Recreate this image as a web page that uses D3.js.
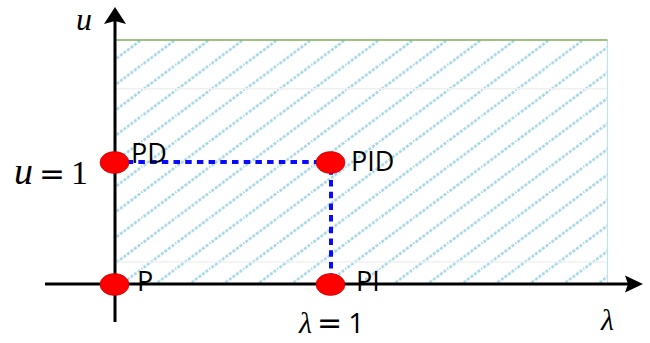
<!DOCTYPE html>
<html>
<head>
<meta charset="utf-8">
<script src="https://cdn.jsdelivr.net/npm/d3@7"></script>
<style>
html,body{margin:0;padding:0;background:#fff;}
svg{display:block;}
</style>
</head>
<body>
<script>
// ---- data ----
const pointNames = ["P", "PI", "PD", "PID"];
const lambdaValues = [0, 1, 0, 1];
const uValues = [0, 0, 1, 1];
const regionLambda = [0, 2.28];
const regionU = [0, 2];
const dashedPath = [[0, 1], [1, 1], [1, 0]]; // [lambda, u]

const W = 650, H = 343;
const svg = d3.select("body").append("svg").attr("width", W).attr("height", H);

const x = d3.scaleLinear().domain([0, 1]).range([115, 331]);
const y = d3.scaleLinear().domain([0, 1]).range([284, 162]);

const defs = svg.append("defs");
const pw = 34, ph = 25.5;
const pat = defs.append("pattern")
  .attr("id", "hatch").attr("patternUnits", "userSpaceOnUse")
  .attr("width", pw).attr("height", ph).attr("x", 5).attr("y", 40);
pat.append("line").attr("x1", -1).attr("y1", ph + 0.75).attr("x2", pw + 1).attr("y2", -0.75)
  .attr("stroke", "#a6d6e7").attr("stroke-width", 2.6)
  .attr("stroke-dasharray", "3,1.4");

// shaded region
svg.append("rect")
  .attr("x", x(regionLambda[0])).attr("y", y(regionU[1]))
  .attr("width", x(regionLambda[1]) - x(regionLambda[0]))
  .attr("height", y(regionU[0]) - y(regionU[1]))
  .attr("fill", "url(#hatch)");
// faint horizontal lines
[1.6, 0.18].forEach(v => {
  svg.append("line").attr("x1", x(0)).attr("x2", x(regionLambda[1]))
    .attr("y1", y(v)).attr("y2", y(v)).attr("stroke", "#f0f0f0").attr("stroke-width", 1.5);
});
// right border
svg.append("line").attr("x1", x(regionLambda[1])).attr("x2", x(regionLambda[1]))
  .attr("y1", y(regionU[1])).attr("y2", y(0)).attr("stroke", "#bfe1ec").attr("stroke-width", 1.2);
// top border green
svg.append("line").attr("x1", x(0)).attr("x2", x(regionLambda[1]))
  .attr("y1", y(regionU[1])).attr("y2", y(regionU[1])).attr("stroke", "#7fae50").attr("stroke-width", 1.5);

// axes
svg.append("line").attr("x1", 45).attr("x2", 628).attr("y1", y(0)).attr("y2", y(0))
  .attr("stroke", "#000").attr("stroke-width", 3);
svg.append("path").attr("d", `M643,${y(0)} L625,${y(0)-8.5} L628,${y(0)} L625,${y(0)+8.5} Z`).attr("fill", "#000");
svg.append("line").attr("x1", x(0)).attr("x2", x(0)).attr("y1", 20).attr("y2", 322)
  .attr("stroke", "#000").attr("stroke-width", 3);
svg.append("path").attr("d", `M${x(0)},7 L${x(0)-11},24 L${x(0)},21 L${x(0)+11},24 Z`).attr("fill", "#000");

// dashed path
svg.append("path")
  .attr("d", d3.line().x(d => x(d[0])).y(d => y(d[1]))(dashedPath))
  .attr("fill", "none").attr("stroke", "#0a0aff").attr("stroke-width", 4)
  .attr("stroke-dasharray", "6.5,5.2");

// points
const pts = pointNames.map((n, i) => ({n, l: lambdaValues[i], u: uValues[i]}));
svg.selectAll("ellipse.pt").data(pts).enter().append("ellipse")
  .attr("cx", d => x(d.l) - 0.5).attr("cy", d => y(d.u) + 0.5)
  .attr("rx", 14.5).attr("ry", 11)
  .attr("fill", "#ff0000").attr("stroke", "#b00000").attr("stroke-width", 0.6);

const labelDx = {P: 22, PI: 25, PD: 16, PID: 20};
const labelDy = {P: 7, PI: 7, PD: 1, PID: 9};
svg.selectAll("text.pt").data(pts).enter().append("text")
  .attr("x", d => x(d.l) + labelDx[d.n]).attr("y", d => y(d.u) + labelDy[d.n])
  .attr("font-family", "'Open Sans', sans-serif").attr("font-size", 27)
  .attr("fill", "#000").text(d => d.n);

// math labels
const serif = "'Liberation Serif', 'DejaVu Serif', serif";
const t1 = svg.append("text").attr("x", 14).attr("y", 184).attr("font-family", serif).attr("font-size", 34);
t1.append("tspan").attr("font-style", "italic").attr("font-size", 38).text("u");
t1.append("tspan").attr("dx", 6).attr("font-family", "'DejaVu Sans', sans-serif").attr("font-size", 31).text("=");
t1.append("tspan").attr("dx", 6).text("1");

const t2 = svg.append("text").attr("x", 299).attr("y", 333).attr("font-family", serif).attr("font-size", 31);
t2.append("tspan").attr("font-style", "italic").attr("font-size", 30).text("λ");
t2.append("tspan").attr("dx", 5).attr("font-family", "'DejaVu Sans', sans-serif").attr("font-size", 30).text("=");
t2.append("tspan").attr("dx", 6).attr("font-family", "'Open Sans', sans-serif").attr("font-size", 28).text("1");

svg.append("text").attr("x", 76).attr("y", 30).attr("font-family", serif)
  .attr("font-size", 32).attr("font-style", "italic").text("u");
svg.append("text").attr("x", 601).attr("y", 330).attr("font-family", serif)
  .attr("font-size", 30).attr("font-style", "italic").text("λ");
</script>
</body>
</html>
